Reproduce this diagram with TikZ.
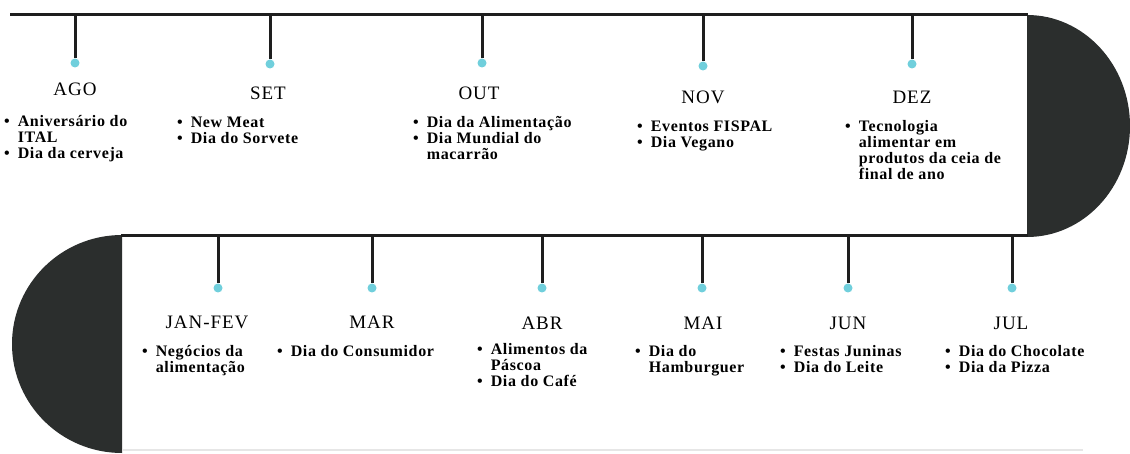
\documentclass[tikz,border=0pt]{standalone}
\usepackage{fontspec}
\setmainfont{Liberation Serif}
\newfontfamily\itemfont[LetterSpace=4]{Liberation Serif}
\newfontfamily\monthfont[LetterSpace=5]{Liberation Serif}
\definecolor{linec}{HTML}{1E1E1E}
\definecolor{discc}{HTML}{2B2E2D}
\definecolor{dotc}{HTML}{70CFDC}
\definecolor{faintc}{HTML}{E6E6E6}
\newcommand\bl{\textbullet}
\newcommand\itembox[1]{\begin{tabular}{@{}l@{\hspace{8pt}}l@{}}#1\end{tabular}}
\begin{document}
\begin{tikzpicture}[x=1pt,y=-1pt,
  bar/.style={line width=3pt, draw=linec},
  tickline/.style={line width=3pt, draw=linec},
  dotn/.style={circle, fill=dotc, inner sep=0pt, minimum size=9pt},
  month/.style={font=\monthfont\fontsize{19}{21}\selectfont, inner sep=0pt, anchor=center},
  items/.style={font=\itemfont\bfseries\fontsize{16}{16}\selectfont, inner sep=0pt, anchor=north west}]
\useasboundingbox (0,0) rectangle (1130,454);
\fill[white] (0,0) rectangle (1130,454);
% discs
\begin{scope}
\clip (1027,0) rectangle (1130,454);
\fill[discc] (1027,126) ellipse [x radius=103, y radius=111];
\end{scope}
\begin{scope}
\clip (0,230) rectangle (122,454);
\fill[discc] (122,344) ellipse [x radius=110, y radius=109];
\end{scope}
% faint bottom line
\coordinate (fa) at (122,450);
\coordinate (fb) at (1083,450);
\draw[faintc, line width=2pt] (fa) -- (fb);
% main lines
\coordinate (ta) at (10,15);
\coordinate (tb) at (1028,15);
\coordinate (ba) at (121,236);
\coordinate (bb) at (1028,236);
\draw[bar] (ta) -- (tb);
\draw[bar] (ba) -- (bb);
% top row ticks
\foreach \n/\x/\d in {ago/75/63, set/270/64, out/482/63, nov/703/66, dez/912/64}{
  \coordinate (t\n) at (\x,15);
  \node[dotn] (d\n) at (\x,\d) {};
  \draw[tickline] (t\n) -- (d\n.north);
}
\foreach \n/\x/\d in {jan/218/288, mar/372/288, abr/542/288, mai/702/288, jun/848/288, jul/1012/288}{
  \coordinate (t\n) at (\x,236);
  \node[dotn] (d\n) at (\x,\d) {};
  \draw[tickline] (t\n) -- (d\n.north);
}
% month labels
\node[month] (lago) at (75,89) {AGO};
\node[month] (lset) at (268,93) {SET};
\node[month] (lout) at (479,93) {OUT};
\node[month] (lnov) at (703,97) {NOV};
\node[month] (ldez) at (912,97) {DEZ};
\node[month] (ljan) at (207,322) {JAN-FEV};
\node[month] (lmar) at (372,322) {MAR};
\node[month] (labr) at (542,323) {ABR};
\node[month] (lmai) at (703,323) {MAI};
\node[month] (ljun) at (848,323) {JUN};
\node[month] (ljul) at (1011,323) {JUL};
% items
\node[items] (iago) at (4,115) {\itembox{\bl & Aniversário do\\ & ITAL\\ \bl & Dia da cerveja}};
\node[items] (iset) at (177,116) {\itembox{\bl & New Meat\\ \bl & Dia do Sorvete}};
\node[items] (iout) at (413,116) {\itembox{\bl & Dia da Alimentação\\ \bl & Dia Mundial do\\ & macarrão}};
\node[items] (inov) at (637,120) {\itembox{\bl & Eventos FISPAL\\ \bl & Dia Vegano}};
\node[items] (idez) at (845,120) {\itembox{\bl & Tecnologia\\ & alimentar em\\ & produtos da ceia de\\ & final de ano}};
\node[items] (ijan) at (142,345) {\itembox{\bl & Negócios da\\ & alimentação}};
\node[items] (imar) at (277,345) {\itembox{\bl & Dia do Consumidor}};
\node[items] (iabr) at (477,343) {\itembox{\bl & Alimentos da\\ & Páscoa\\ \bl & Dia do Café}};
\node[items] (imai) at (635,345) {\itembox{\bl & Dia do\\ & Hamburguer}};
\node[items] (ijun) at (780,345) {\itembox{\bl & Festas Juninas\\ \bl & Dia do Leite}};
\node[items] (ijul) at (945,345) {\itembox{\bl & Dia do Chocolate\\ \bl & Dia da Pizza}};
\end{tikzpicture}
\end{document}
